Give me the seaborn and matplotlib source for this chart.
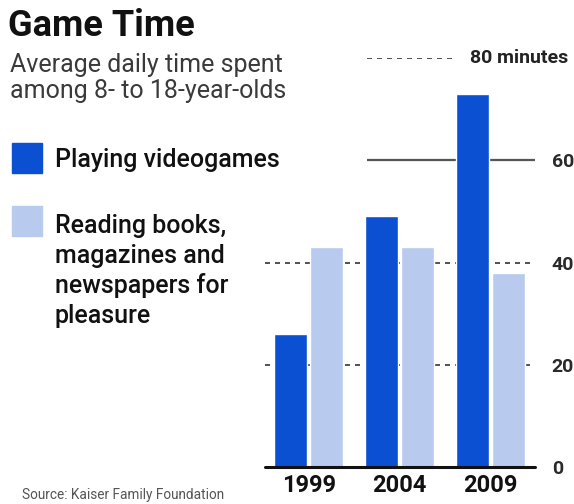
import numpy as np
import pandas as pd
import seaborn as sns
import matplotlib.pyplot as plt
from matplotlib.patches import Rectangle

# data (minutes per day)
years = ["1999", "2004", "2009"]
videogames = [26, 49, 73]
reading = [43, 43, 38]
series_names = ["Playing videogames", "Reading books"]
y_ticks = [0, 20, 40, 60]

dark_blue = "#0B4FD2"
light_blue = "#B8CBEE"

df = pd.DataFrame(
    {
        "year": years * 2,
        "minutes": videogames + reading,
        "activity": [series_names[0]] * 3 + [series_names[1]] * 3,
    }
)

sns.set_style("white")
plt.rcParams["font.family"] = ["Roboto", "DejaVu Sans"]

W, H = 574, 504
fig = plt.figure(figsize=(W / 100, H / 100), dpi=100)
ax = fig.add_axes([265 / W, 1 - 467 / H, 270 / W, (467 - 58) / H])


def fx(px):
    return px / W


def fy(py):
    return 1 - py / H


x_lo, x_hi = -0.48, 2.49

# reference lines behind the bars
for v in [20, 40]:
    ax.axhline(v, color="#333333", lw=1.2, ls=(0, (3, 3)), zorder=0)
ax.hlines(60, 0.643, x_hi, color="#555555", lw=1.6, zorder=0)
ax.hlines(80, 0.643, 1.577, color="#333333", lw=1.2, ls=(0, (3, 3)), zorder=0)

sns.barplot(
    data=df,
    x="year",
    y="minutes",
    hue="activity",
    palette=[dark_blue, light_blue],
    width=0.8,
    gap=0.1,
    saturation=1,
    legend=False,
    ax=ax,
    zorder=2,
)
ax.axhline(0, color="#111111", lw=2.2, zorder=3, clip_on=False)

ax.set_xlim(x_lo, x_hi)
ax.set_ylim(0, 80)
ax.set_xlabel("")
ax.set_ylabel("")
sns.despine(ax=ax, left=True, bottom=True, right=True, top=True)
ax.yaxis.tick_right()
ax.set_yticks(y_ticks)
ax.set_yticklabels([str(t) for t in y_ticks], fontsize=14, fontweight="bold",
                   color="#2a2a2a")
ax.tick_params(axis="y", length=0, pad=12)
ax.tick_params(axis="x", length=0, pad=5)
for lab in ax.get_xticklabels():
    lab.set_fontsize(17)
    lab.set_fontweight("bold")
    lab.set_color("#111111")

ax.text(1.78, 80, "80 minutes", fontsize=14, fontweight="bold",
        color="#222222", va="center", ha="left", clip_on=False)

# title block
fig.text(fx(8), fy(36), "Game Time", fontsize=26, fontweight="bold",
         color="#111111", va="baseline")
fig.text(fx(10), fy(72), "Average daily time spent", fontsize=18,
         color="#3a3a3a", va="baseline")
fig.text(fx(10), fy(98), "among 8- to 18-year-olds", fontsize=18,
         color="#3a3a3a", va="baseline")

# legend
fig.patches.append(Rectangle((fx(12), fy(173)), 30 / W, 30 / H,
                             transform=fig.transFigure, color=dark_blue))
fig.patches.append(Rectangle((fx(12), fy(236)), 30 / W, 30 / H,
                             transform=fig.transFigure, color=light_blue))
fig.text(fx(55), fy(167), "Playing videogames", fontsize=18, color="#111111",
         fontweight="medium", va="baseline")
legend_lines = ["Reading books,", "magazines and", "newspapers for", "pleasure"]
for i, line in enumerate(legend_lines):
    fig.text(fx(55), fy(233 + 30 * i), line, fontsize=18, color="#111111",
             fontweight="medium", va="baseline")

fig.text(fx(22), fy(499), "Source: Kaiser Family Foundation", fontsize=9.8,
         color="#555555", va="baseline")

fig.savefig("out.png", dpi=100)
